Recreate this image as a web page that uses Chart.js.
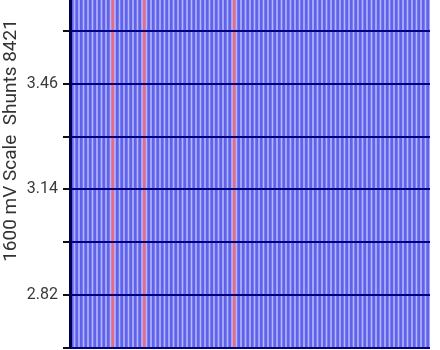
<!DOCTYPE html>
<html><head><meta charset="utf-8">
<script src="https://cdn.jsdelivr.net/npm/chart.js@4/dist/chart.umd.min.js"></script>
<style>
html,body{margin:0;padding:0;background:#fff;overflow:hidden;}
#wrap{position:absolute;left:0;top:-82px;width:440px;height:445px;}
</style></head><body>
<div id="wrap"><canvas id="c" width="440" height="445"></canvas></div>
<script>
const channels = ['C1','C2','C3','C4','C5','C6','C7','C8','C9','C10','C11','C12','C13','C14','C15','C16','C17','C18','C19','C20',
'C21','C22','C23','C24','C25','C26','C27','C28','C29','C30','C31','C32','C33','C34','C35','C36','C37','C38','C39','C40',
'C41','C42','C43','C44','C45','C46','C47','C48','C49','C50','C51','C52','C53','C54','C55','C56','C57','C58','C59','C60',
'C61','C62','C63','C64','C65','C66','C67','C68','C69','C70','C71','C72','C73','C74','C75','C76','C77','C78','C79','C80'];
const voltages = [3.95,3.95,3.95,3.95,3.95,3.95,3.95,3.95,3.95,3.95,3.95,3.95,3.95,3.95,3.95,3.95,3.95,3.95,3.95,3.95,
3.95,3.95,3.95,3.95,3.95,3.95,3.95,3.95,3.95,3.95,3.95,3.95,3.95,3.95,3.95,3.95,3.95,3.95,3.95,3.95,
3.95,3.95,3.95,3.95,3.95,3.95,3.95,3.95,3.95,3.95,3.95,3.95,3.95,3.95,3.95,3.95,3.95,3.95,3.95,3.95,
3.95,3.95,3.95,3.95,3.95,3.95,3.95,3.95,3.95,3.95,3.95,3.95,3.95,3.95,3.95,3.95,3.95,3.95,3.95,3.95];
const shunted = ['C10','C17','C37'];
const tickValues = [2.66,2.82,2.98,3.14,3.30,3.46,3.62,3.78];
const tickLabels = {"2.82":"2.82","3.14":"3.14","3.46":"3.46","3.78":"3.78"};
const yMin = 2.66, yMax = 3.916;

const bgPlugin = {id:'bg',beforeDatasetsDraw(chart){const a=chart.chartArea,ctx=chart.ctx;ctx.save();ctx.fillStyle='#b2b6ff';ctx.fillRect(a.left,a.top,a.right-a.left,a.bottom-a.top);ctx.restore();}};

new Chart(document.getElementById('c'),{
  type:'bar',
  data:{labels:channels,datasets:[{data:voltages,
    backgroundColor:channels.map(c=>shunted.includes(c)?'#e46c84':'#6062ea'),
    borderWidth:0,barPercentage:0.64,categoryPercentage:1.0}]},
  options:{responsive:false,animation:false,
    layout:{padding:{left:0,right:10,top:0,bottom:0}},
    plugins:{legend:{display:false},tooltip:{enabled:false}},
    scales:{
      x:{display:false},
      y:{min:yMin,max:yMax,z:1,
        afterBuildTicks:s=>{s.ticks=tickValues.map(v=>({value:v}));},
        afterFit:s=>{s.width=70;},
        ticks:{color:'#3a3a3a',font:{family:'Roboto',size:16},padding:5,
          callback:(v)=>tickLabels[v.toFixed(2)]||''},
        grid:{z:1,color:'#000080',lineWidth:2,tickLength:7,tickColor:'#111',tickWidth:2},
        border:{z:1,display:true,color:'#000050',width:3},
        title:{display:true,text:'1600 mV Scale  Shunts 8421',color:'#333',font:{family:'Roboto',size:19},padding:{top:0,bottom:0}}
      }
    }
  },
  plugins:[bgPlugin]
});
</script></body></html>
